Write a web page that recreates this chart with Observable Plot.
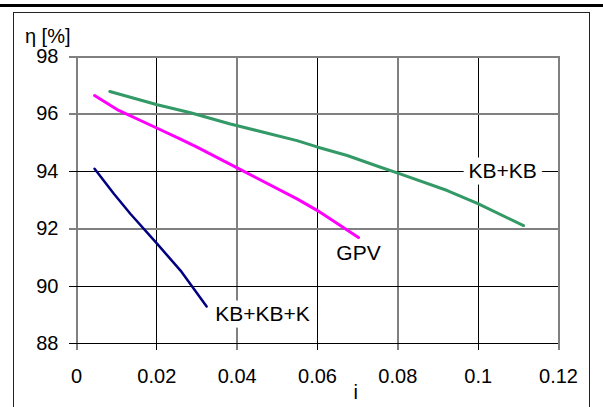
<!DOCTYPE html>
<html>
<head>
<meta charset="utf-8">
<script src="https://cdn.jsdelivr.net/npm/d3@7"></script>
<script src="https://cdn.jsdelivr.net/npm/@observablehq/plot@0.6"></script>
<style>
  html, body { margin: 0; padding: 0; background: #fff; }
  #wrap { position: relative; width: 603px; height: 407px; overflow: hidden; }
  #topline { position: absolute; left: 0; top: 4px; width: 603px; height: 3px; background: #000; }
  #box { position: absolute; left: 13px; top: 12px; width: 577px; height: 440px; border: 1px solid #222; box-sizing: border-box; pointer-events: none; }
</style>
</head>
<body>
<div id="wrap"></div>
<script>
// Axis ticks
const xTicks = [0, 0.02, 0.04, 0.06, 0.08, 0.1, 0.12];
const yTicks = [88, 90, 92, 94, 96, 98];
const xGridGray = [0, 0.04, 0.08, 0.12];
const xGridBlack = [0.02, 0.06, 0.1];
const yGridGray = [98, 96, 92];
const yGridBlack = [94, 90, 88];

// Series: KB+KB (green)
const kbkbI   = [0.0083, 0.0201, 0.0284, 0.0383, 0.0549, 0.0601, 0.0674, 0.0757, 0.0802, 0.0923, 0.0998, 0.1113];
const kbkbEta = [96.78, 96.32, 96.04, 95.65, 95.07, 94.84, 94.55, 94.14, 93.93, 93.33, 92.88, 92.11];
// Series: GPV (magenta)
const gpvI   = [0.0045, 0.0101, 0.0201, 0.0251, 0.0300, 0.0400, 0.0549, 0.0600, 0.0702];
const gpvEta = [96.64, 96.15, 95.50, 95.17, 94.84, 94.12, 93.04, 92.63, 91.69];
// Series: KB+KB+K (navy)
const kbkbkI   = [0.0045, 0.0093, 0.0134, 0.0201, 0.0259, 0.0324];
const kbkbkEta = [94.09, 93.22, 92.52, 91.47, 90.54, 89.29];

// Series labels
const labelText = ["KB+KB", "GPV", "KB+KB+K"];
const labelI    = [0.1061, 0.0702, 0.0463];
const labelEta  = [94.0, 91.14, 89.02];

const yTitle = ["η [%]"];
const xTitle = ["i"];

const font = "Liberation Sans, Arial, Helvetica, sans-serif";

const chart = Plot.plot({
  width: 603,
  height: 407,
  marginLeft: 76,
  marginRight: 45,
  marginTop: 56,
  marginBottom: 64,
  style: { fontFamily: font, fontSize: "20px", background: "#fff", color: "#000" },
  x: { domain: [0, 0.12] },
  y: { domain: [88, 98] },
  marks: [
    Plot.ruleX(xGridGray, { x: d => d, stroke: "#808080", strokeWidth: 2, insetBottom: -7, shapeRendering: "crispEdges" }),
    Plot.ruleX(xGridBlack, { x: d => d, stroke: "#000", strokeWidth: 1, insetBottom: -7, shapeRendering: "crispEdges" }),
    Plot.ruleY(yGridGray, { y: d => d, stroke: "#808080", strokeWidth: 2, insetLeft: -7, shapeRendering: "crispEdges" }),
    Plot.ruleY(yGridBlack, { y: d => d, stroke: "#000", strokeWidth: 1, insetLeft: -7, shapeRendering: "crispEdges" }),
    Plot.axisX({ ticks: xTicks, tickSize: 0, tickPadding: 25, tickFormat: d => String(d), fontSize: 20, label: null }),
    Plot.axisY({ ticks: yTicks, tickSize: 0, tickPadding: 18, tickFormat: d => String(d), fontSize: 20, label: null }),
    Plot.line(kbkbEta, { x: kbkbI, y: kbkbEta, stroke: "#339966", strokeWidth: 3 }),
    Plot.line(gpvEta, { x: gpvI, y: gpvEta, stroke: "#FF00FF", strokeWidth: 3 }),
    Plot.line(kbkbkEta, { x: kbkbkI, y: kbkbkEta, stroke: "#000080", strokeWidth: 2.5 }),
    Plot.text(labelText, { x: labelI, y: labelEta, text: d => d, fontSize: 21, fill: "#000",
      stroke: "#fff", strokeWidth: 13, strokeLinejoin: "round", paintOrder: "stroke",
      textAnchor: "middle", lineAnchor: "middle" }),
    Plot.text(yTitle, { frameAnchor: "top-left", text: d => d, dx: -6, dy: -20, textAnchor: "end", lineAnchor: "middle", fontSize: 20 }),
    Plot.text(xTitle, { x: [0.0695], frameAnchor: "bottom", text: d => d, dy: 49, textAnchor: "middle", lineAnchor: "middle", fontSize: 20 })
  ]
});

const wrap = document.getElementById("wrap");
wrap.appendChild(chart);
const topLineDiv = document.createElement("div"); topLineDiv.id = "topline"; wrap.appendChild(topLineDiv);
const boxDiv = document.createElement("div"); boxDiv.id = "box"; wrap.appendChild(boxDiv);
</script>
</body>
</html>
